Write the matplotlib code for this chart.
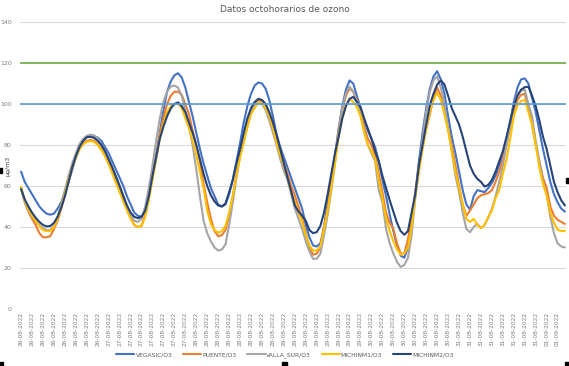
import numpy as np
import matplotlib
matplotlib.use('Agg')
import matplotlib.pyplot as plt
from matplotlib.patches import Rectangle

# hourly 8-h ozone averages, 26-08-2022 00h .. 01-09-2022 05h
vegasic = [67, 62, 59, 56, 53, 50, 48, 46.5, 46, 46.5, 49, 52, 57, 62, 68, 74, 79, 82, 84, 85, 84.5, 83.5, 82, 79,
           76, 72, 68, 64, 60, 55, 51, 47, 45.5, 45, 48, 55, 64, 75, 86, 97, 106, 111, 114, 115, 113, 108, 101, 94,
           86, 78, 71, 65, 59, 55, 51, 50, 51, 56, 63, 72, 81, 91, 99, 105, 109, 110.5, 110, 107.5, 102, 94, 85, 79,
           74, 69, 64, 59, 54, 49, 41, 35, 31, 30.5, 32, 40, 52, 64, 75, 88, 99, 107, 111.5, 110, 104, 98, 92, 87,
           83, 79, 72, 63, 55, 46, 38, 31, 26, 25, 30, 42, 56, 72, 86, 98, 107.5, 113.5, 116, 112, 105, 94, 84, 76,
           67, 58, 51, 48.5, 55, 58, 57.5, 57, 59, 61.5, 65, 70, 75, 83, 91, 101, 108, 112, 112.5, 110, 103, 96, 87, 78,
           70, 62, 56, 52, 49, 47.5]
puente = [59, 52, 47.5, 44, 41, 37, 35, 35, 35.5, 39, 43, 49, 55.5, 62, 69, 74, 78, 80.5, 82, 82.5, 82, 80.5, 78, 75,
          71, 67, 63, 58.5, 54, 49, 44.5, 41, 40, 40.5, 46, 55, 65, 74, 85, 93, 100, 104, 106, 106, 104.5, 100, 95, 87,
          80, 72, 61, 52, 44, 38, 35.5, 36, 38.5, 46, 55, 66, 75, 82, 89, 96, 100, 102, 101.5, 99.5, 95, 89, 82, 76,
          71, 66, 60, 55.5, 50, 44, 37, 30, 26.5, 27, 30, 40, 49, 61, 73, 87, 97, 104, 107.5, 106, 102, 97, 89, 83,
          80, 75, 66, 57, 47, 42, 39, 32, 27, 27, 34, 44, 57, 70, 79, 88, 95, 103, 108, 104, 97, 88, 80, 70,
          60, 51, 45.5, 48, 51, 54, 55.5, 56, 56.5, 58, 62, 67, 73, 80, 89, 97, 102, 104.5, 105, 98, 90, 80, 72, 64,
          59, 50, 45.5, 43.5, 42.5, 41.5]
valla_sur = [59, 52, 48, 45, 43, 41, 39.5, 38.5, 38.5, 40.5, 45, 51, 58, 65, 71, 76, 80.5, 83, 84.5, 85, 84.5, 83, 80, 77,
             73, 69, 64.5, 60, 55.5, 50.5, 46, 43, 42.5, 44, 50, 59, 70, 82, 93, 101, 106, 108.5, 109, 108, 104, 97, 89, 80,
             68, 55, 43, 37, 33, 30, 28.5, 29, 31.5, 41, 52, 64, 75, 84, 91.5, 96.5, 99.5, 101, 100, 97, 92, 86, 80, 73,
             67.5, 63, 56, 49, 44, 39, 33, 28, 24.5, 24.5, 27, 36, 46, 58, 71, 86, 98, 105, 108.5, 106, 101, 95, 87, 80,
             76, 72, 58, 52, 39, 32, 27, 23, 20.5, 21.5, 25, 36, 54, 68, 83, 96, 106, 111.5, 113.5, 108, 100, 88, 77, 65,
             57, 47, 39, 37.5, 40, 41.5, 39.5, 41, 44.5, 49, 55, 62, 70, 80, 90, 99, 105, 106.5, 107, 100, 94, 82, 72, 62,
             55.5, 45, 37, 32, 30.5, 30]
michinm1 = [59.5, 53, 48.5, 45.5, 43, 40.5, 38.5, 38, 38, 40, 44, 50, 56, 63, 69, 74, 78, 80.5, 81.5, 82, 81.5, 80, 77.5, 74.5,
            70.5, 66, 61.5, 57, 52.5, 48, 44, 41, 40, 40.5, 45, 53, 63, 73, 83, 90.5, 96, 99, 100, 100.3, 98, 93, 88, 82,
            75, 67, 59, 48, 41.5, 38.5, 37.2, 38, 40.5, 47, 55, 65, 74, 81, 89, 95, 98, 101, 100.5, 98, 94, 88, 81, 75,
            70, 64, 57, 52.5, 47, 42.5, 36, 31, 28.5, 28.5, 30.5, 39, 48, 59, 71, 84, 93, 99, 102.5, 101, 98.5, 94, 86, 80,
            77, 73, 63, 54, 44, 38, 33, 29, 26.5, 27, 30, 40, 55, 67, 78, 88, 96, 102, 105.5, 102, 95, 87, 77, 67,
            59, 51, 44, 42.5, 44, 41, 39.5, 41, 45, 48, 54, 58, 66, 73, 83, 94, 99.5, 101.5, 102, 96, 90, 80, 69, 61,
            55.5, 47, 42, 38.7, 38, 38]
michinm2 = [58.5, 53.5, 50, 47, 44.5, 42.5, 41, 40.3, 40.5, 42, 45, 49.5, 55, 62, 69, 74.5, 79, 82, 83.8, 84, 83.5, 82, 80, 77,
            73, 69, 64.5, 60, 55, 50.5, 47, 45, 44.3, 45, 48, 55, 65, 74, 83, 89, 94, 97.8, 100, 100.8, 99, 96, 91, 86,
            80, 73, 66, 60, 55.5, 52.5, 50.5, 50, 51.5, 57, 63, 71, 78, 86, 93, 98, 101, 102.5, 102, 100, 96, 91, 85, 78,
            71, 64, 57.5, 50.5, 47.5, 45.5, 43, 38.5, 37, 37.5, 40.5, 47, 56, 66, 76, 84, 93, 99, 102.5, 103.5, 101, 98.5, 93, 88,
            83, 77, 72, 65, 59, 53, 47.5, 42, 38, 36.2, 38, 47, 56, 70, 80, 90, 99.5, 105, 109.5, 111.5, 109.5, 104, 98, 94,
            90, 84, 77, 70, 66, 63.5, 62, 59.7, 60.5, 63, 67, 72, 77, 84, 91.5, 99, 104, 107, 108.2, 108.4, 104, 99, 92, 84,
            78, 70, 62, 57, 53, 50.5]

names = ['VEGASIC/O3', 'PUENTE/O3', 'VALLA_SUR/O3', 'MICHINM1/O3', 'MICHINM2/O3']
colors = ['#4472C4', '#ED7D31', '#A5A5A5', '#FFC000', '#264478']
days = ['26-08-2022', '27-08-2022', '28-08-2022', '29-08-2022', '30-08-2022', '31-08-2022', '01-09-2022']
limit_green = 120
limit_blue = 100

hours = np.arange(len(vegasic))
tick_pos = hours[::3]
tick_lab = [days[h // 24] for h in tick_pos]

fig = plt.figure(figsize=(5.69, 3.66), dpi=100)
ax = fig.add_axes([20/569, 1-309/366, 546/569, 287/366])

series = [vegasic, puente, valla_sur, michinm1, michinm2]
for s, name, c in zip(series, names, colors):
    ax.plot(hours, s, color=c, lw=1.5, label=name, solid_capstyle='round')

ax.axhline(limit_green, color='#70AD47', lw=1.2, zorder=5)
ax.axhline(limit_blue, color='#5B9BD5', lw=1.2, zorder=5)

ax.set_xlim(-0.3, 149.3)
ax.set_ylim(0, 140)
ax.set_yticks(range(0, 141, 20))
ax.set_xticks(tick_pos)
ax.set_xticklabels(tick_lab, rotation=90, fontsize=4.2, color='#7f7f7f')
ax.tick_params(axis='y', labelsize=4.5, labelcolor='#7f7f7f', length=0, pad=6)
ax.tick_params(axis='x', length=0, pad=2)
ax.grid(axis='y', color='#D9D9D9', lw=0.8)
ax.set_axisbelow(True)
for sp in ax.spines.values():
    sp.set_visible(False)

ax.set_ylabel('µg/m3', fontsize=4.5, color='#404040')
ax.yaxis.set_label_coords(-0.018, 0.5)

fig.text(0.5, 1-9/366, 'Datos octohorarios de ozono', ha='center', va='center',
         fontsize=6.5, color='#595959')

fig.legend(loc='center', bbox_to_anchor=(285/569, 1-355/366), ncol=5, frameon=False,
           fontsize=4.3, handlelength=3.0, columnspacing=1.8, handletextpad=0.2,
           labelcolor='#595959')

# chart selection handles
for px, py, w, h in [(0, 362, 3, 4), (282, 362, 5, 4), (565, 362, 4, 4), (566, 178, 3, 5), (0, 168, 2, 5)]:
    fig.patches.append(Rectangle((px/569, 1-(py+h)/366), w/569, h/366, transform=fig.transFigure,
                                 color='black', zorder=10))

fig.savefig('out.png', dpi=100)
